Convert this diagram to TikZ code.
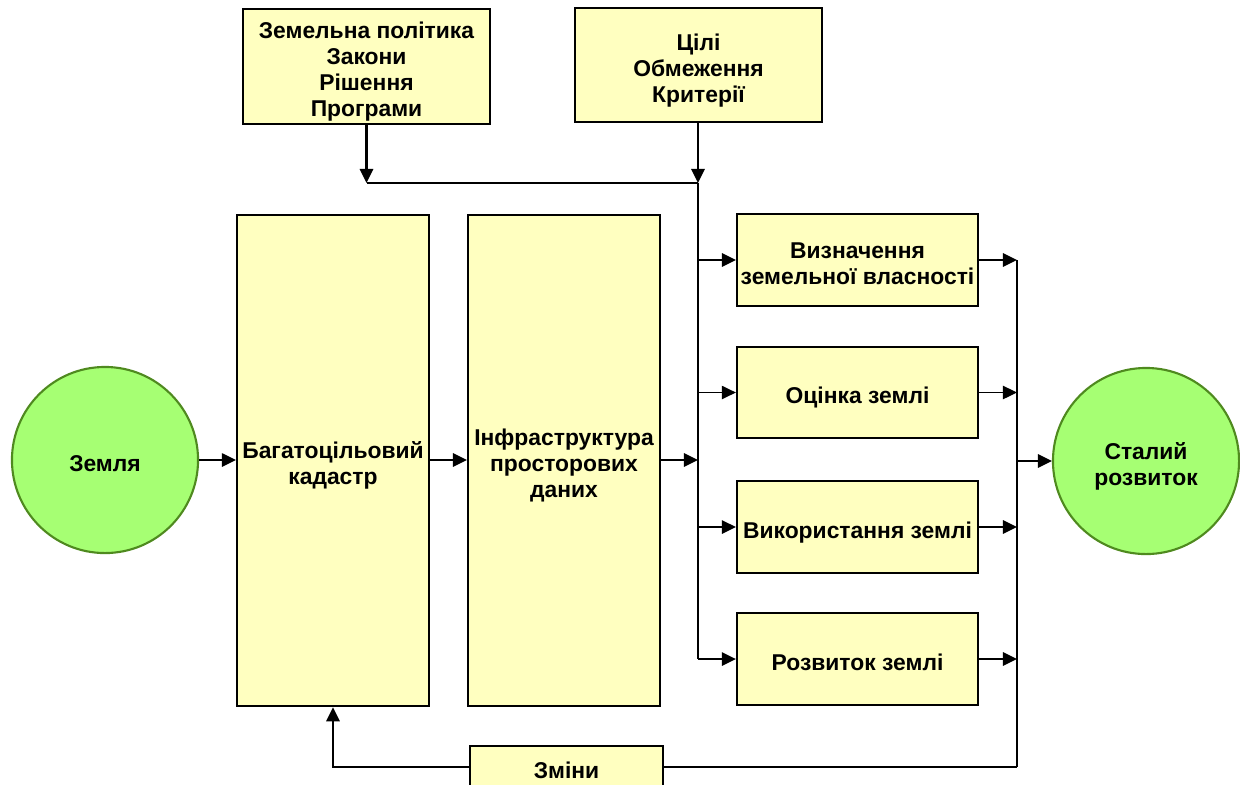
\documentclass[tikz,border=0pt]{standalone}
\usepackage{fontspec}
\setmainfont{Liberation Sans}
\usetikzlibrary{arrows.meta}
\definecolor{boxfill}{HTML}{FFFFC0}
\definecolor{ballfill}{HTML}{A6FF73}
\definecolor{balledge}{HTML}{4F8A1F}
% centred label block, set slightly below the middle of its shape
\newcommand{\lowered}[1]{\raisebox{-1.7pt}[\height][\depth]{\begin{tabular}{@{}c@{}}#1\end{tabular}}}
\begin{document}
\begin{tikzpicture}[x=0.01cm,y=-0.01cm,
  every node/.style={font=\fontsize{6.5pt}{7.4pt}\selectfont\bfseries, inner sep=0pt},
  box/.style={draw=black, fill=boxfill, line width=0.6pt, rectangle},
  ball/.style={draw=balledge, fill=ballfill, line width=0.6pt, circle, minimum size=1.86cm},
  conn/.style={line width=0.6pt},
  thin conn/.style={line width=0.35pt},
  arr/.style={conn, -{Triangle[length=4pt,width=3.8pt]}},
  thin arr/.style={thin conn, -{Triangle[length=4pt,width=3.8pt]}}]
\useasboundingbox (0,0) rectangle (1240,784);
\renewcommand{\arraystretch}{1}

% upper boxes
\node[box, minimum width=2.47cm, minimum height=1.15cm] (pol) at (366.5,66.5)
  {\lowered{Земельна політика\\Закони\\Рішення\\Програми}};
\node[box, minimum width=2.47cm, minimum height=1.14cm] (goal) at (698.5,65)
  {\lowered{Цілі\\Обмеження\\Критерії}};

% main chain
\node[ball] (land) at (105,460) {\lowered{Земля}};
\node[box, minimum width=1.92cm, minimum height=4.91cm] (cad) at (333,460.5)
  {\lowered{Багатоцільовий\\кадастр}};
\node[box, minimum width=1.92cm, minimum height=4.91cm] (sdi) at (564,460.5)
  {\lowered{Інфраструктура\\просторових\\даних}};

% land administration functions
\node[box, minimum width=2.41cm, minimum height=0.92cm] (own) at (857.5,260)
  {\lowered{Визначення\\земельної власності}};
\node[box, minimum width=2.41cm, minimum height=0.91cm] (val) at (857.5,392.5)
  {\lowered{Оцінка землі}};
\node[box, minimum width=2.41cm, minimum height=0.92cm] (use) at (857.5,527)
  {\lowered{Використання землі}};
\node[box, minimum width=2.41cm, minimum height=0.92cm] (dev) at (857.5,659)
  {\lowered{Розвиток землі}};

\node[ball] (sust) at (1146,461) {\lowered{Сталий\\розвиток}};
\node[box, minimum width=1.93cm, minimum height=0.42cm] (chg) at (566.5,767) {\lowered{Зміни}};

% junction points of the buses
\coordinate (jL) at (366.5,183);
\coordinate (jR) at (698,183);
\coordinate (busTop) at (698,183);
\coordinate (busBot) at (698,659);
\coordinate (sumTop) at (1017,260);
\coordinate (sumBot) at (1017,767);

% inputs from above
\draw[arr] (pol.south) -- (jL);
\draw[arr] (goal.south -| jR) -- (jR);
\draw[conn] (jL) -- (jR);
\draw[conn] (busTop) -- (busBot);

% main chain arrows
\draw[arr] (land.east) -- (cad.west |- land.east);
\draw[arr] (cad.east |- land.east) -- (sdi.west |- land.east);
\draw[arr] (sdi.east |- land.east) -- (busTop |- land.east);

% distribution to functions
\foreach \n in {own,use,dev}{
  \draw[arr] (busTop |- \n.west) -- (\n.west);
  \draw[arr] (\n.east) -- (sumTop |- \n.east);
}
\draw[thin arr] (busTop |- val.west) -- (val.west);
\draw[thin arr] (val.east) -- (sumTop |- val.east);
\draw[conn] (sumTop) -- (sumBot);
\draw[arr] (sumTop |- sust.west) -- (sust.west);

% feedback loop
\draw[conn] (sumBot) -- (chg.east);
\draw[arr] (chg.west) -| (cad.south);
\end{tikzpicture}
\end{document}
